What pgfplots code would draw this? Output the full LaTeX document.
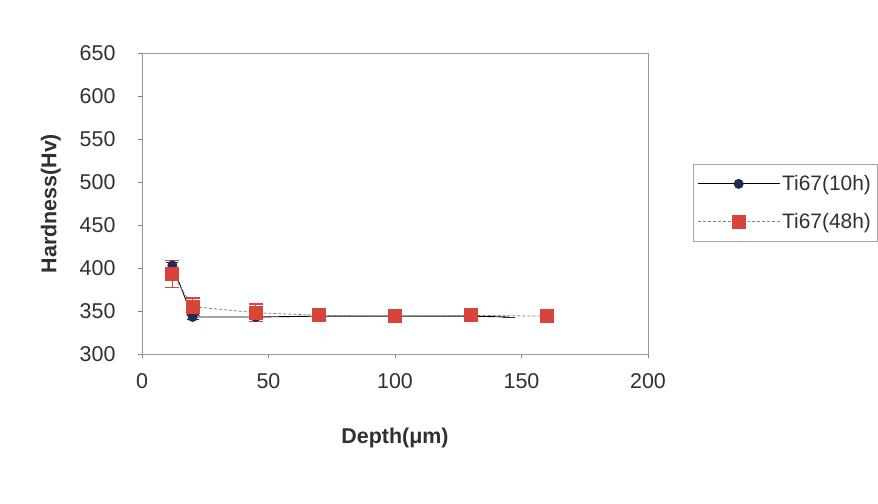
\documentclass[border=0pt]{standalone}
\usepackage{pgfplots}
\pgfplotsset{compat=1.18}
\usepackage{fontspec}
\setmainfont{Liberation Sans}
\definecolor{navy}{HTML}{1F2D55}
\definecolor{redsq}{HTML}{D8433A}
\definecolor{txt}{HTML}{303030}
\begin{document}
\begin{tikzpicture}[x=1bp,y=1bp]
\path[use as bounding box] (-142,-150) rectangle (736,354);
\begin{axis}[
  at={(0,0)}, anchor=south west,
  scale only axis, width=506bp, height=301bp,
  xmin=0, xmax=200, ymin=300, ymax=650,
  xtick={0,50,...,200}, ytick={300,350,...,650},
  xtick pos=lower, ytick pos=left,
  tick align=outside, tick style={gray, thin},
  major tick length=4bp,
  axis line style={gray!80, line width=0.8pt},
  /pgf/number format/assume math mode=true,
  ticklabel style={font=\fontsize{21.5}{21.5}\selectfont, text=txt},
  xticklabel style={yshift=-12bp},
  yticklabel style={xshift=-19bp},
  xlabel={\textbf{Depth(μm)}},
  ylabel={\textbf{Hardness(Hv)}},
  label style={font=\fontsize{21.5}{21.5}\selectfont, text=txt},
  xlabel style={yshift=-32bp},
  ylabel style={yshift=12bp},
  legend style={at={(1.089,0.63)}, anchor=north west,
    draw=gray!70, font=\fontsize{21}{21}\selectfont, text=txt,
    inner xsep=4bp, inner ysep=9bp, row sep=17bp},
  legend cell align=left,
  legend image code/.code={
    \draw[#1] (0bp,0bp) -- (82bp,0bp);
    \draw[#1, only marks] plot coordinates {(41bp,0bp)};
  },
]
\addplot[black, line width=0.9pt, mark=*, mark size=4.5bp, mark indices={1,...,6},
  mark options={fill=navy, draw=navy, solid},
  error bars/.cd, y dir=both, y explicit,
  error bar style={navy, line width=1pt}, error mark options={rotate=90, mark size=6bp, navy}]
coordinates {
 (12,403) +- (0,4)
 (20,343) +- (0,3)
 (45,343) +- (0,3)
 (70,344) +- (0,3)
 (100,344) +- (0,3)
 (130,344) +- (0,3)
 (145,343) +- (0,0)
};
\addlegendentry{Ti67(10h)}
\addplot[gray, densely dashed, line width=0.8pt, mark=square*, mark size=6.5bp,
  mark options={fill=redsq, draw=redsq, solid},
  error bars/.cd, y dir=both, y explicit,
  error bar style={redsq, line width=1.3pt, solid}, error mark options={rotate=90, mark size=7bp, redsq, line width=1.3pt}]
coordinates {
 (12,393) +- (0,16)
 (20,355) +- (0,10)
 (45,348) +- (0,10)
 (70,345) +- (0,4)
 (100,344) +- (0,4)
 (130,345) +- (0,5)
 (160,344) +- (0,7)
};
\addlegendentry{Ti67(48h)}
\end{axis}
\end{tikzpicture}
\end{document}
